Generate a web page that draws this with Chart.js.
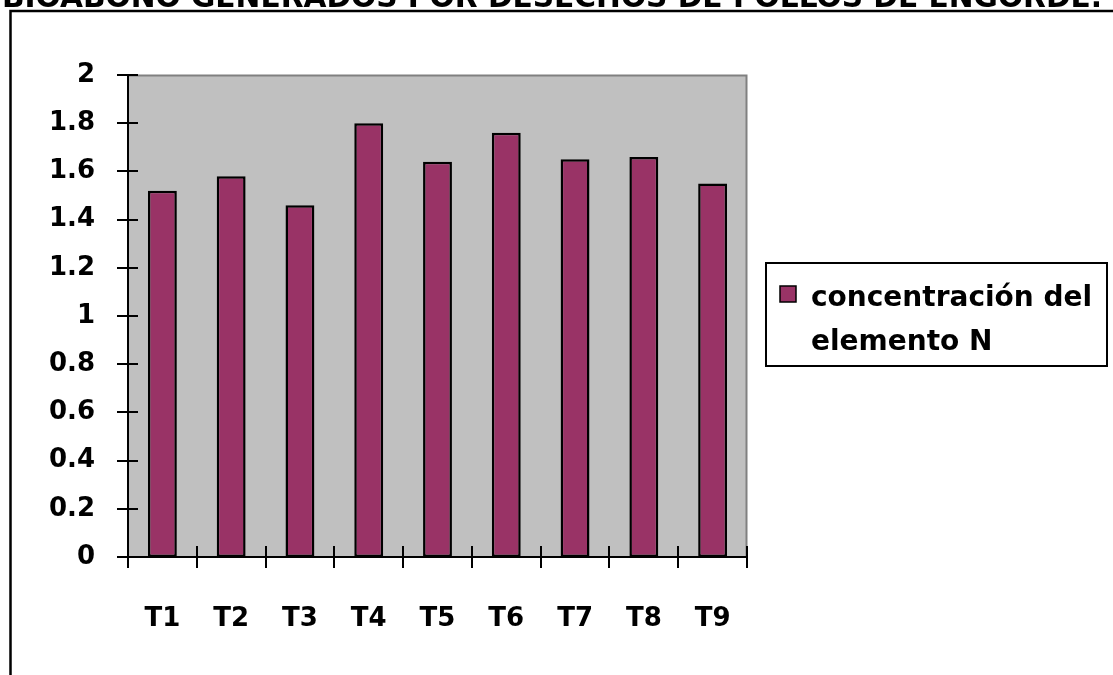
<!DOCTYPE html>
<html>
<head>
<meta charset="utf-8">
<script src="https://cdn.jsdelivr.net/npm/chart.js@4.4.1/dist/chart.umd.min.js"></script>
<style>
  html, body { margin: 0; padding: 0; background: #ffffff; }
  #wrap { position: relative; width: 1113px; height: 675px; }
</style>
</head>
<body>
<div id="wrap"><canvas id="chart"></canvas></div>
<script>
// Nitrogen concentration per treatment
const titleText = 'BIOABONO GENERADOS POR DESECHOS DE POLLOS DE ENGORDE.';
const categories = ['T1', 'T2', 'T3', 'T4', 'T5', 'T6', 'T7', 'T8', 'T9'];
const seriesLabel = 'concentración del elemento N';
const nitrogenValues = [1.52, 1.58, 1.46, 1.80, 1.64, 1.76, 1.65, 1.66, 1.55];
const yTickLabels = ['0', '0.2', '0.4', '0.6', '0.8', '1', '1.2', '1.4', '1.6', '1.8', '2'];

const FONT = '"DejaVu Sans", sans-serif';
const BAR_FILL = '#993366';

// Page frame, cropped heading, grey plot area, axes with crossing tick marks, boxed legend
const decorPlugin = {
  id: 'decor',
  beforeDraw(chart) {
    const ctx = chart.ctx;
    const a = chart.chartArea;
    ctx.save();
    ctx.fillStyle = '#ffffff';
    ctx.fillRect(0, 0, chart.width, chart.height);

    // heading (only its lower part fits on the page)
    ctx.fillStyle = '#000000';
    ctx.font = 'bold 30px ' + FONT;
    ctx.textAlign = 'center';
    ctx.textBaseline = 'alphabetic';
    ctx.fillText(titleText, 552, 7, 1100);

    // outer frame: top and left edges
    ctx.strokeStyle = '#000000';
    ctx.lineWidth = 2.5;
    ctx.beginPath();
    ctx.moveTo(10.5, chart.height + 2);
    ctx.lineTo(10.5, 11);
    ctx.lineTo(chart.width + 2, 11);
    ctx.stroke();

    // plot area
    ctx.fillStyle = '#c0c0c0';
    ctx.fillRect(a.left, a.top, a.right - a.left, a.bottom - a.top);
    ctx.strokeStyle = '#808080';
    ctx.lineWidth = 2;
    ctx.beginPath();
    ctx.moveTo(a.left, a.top + 0.5);
    ctx.lineTo(a.right - 0.5, a.top + 0.5);
    ctx.lineTo(a.right - 0.5, a.bottom);
    ctx.stroke();
    ctx.restore();
  },
  afterDatasetsDraw(chart) {
    const ctx = chart.ctx;
    const a = chart.chartArea;
    const ys = chart.scales.y;
    ctx.save();
    ctx.strokeStyle = '#000000';
    ctx.lineWidth = 2;
    ctx.beginPath();
    // value axis and its ticks
    ctx.moveTo(a.left, a.top);
    ctx.lineTo(a.left, a.bottom + 11);
    ys.ticks.forEach((t, i) => {
      const y = Math.round(ys.getPixelForTick(i));
      ctx.moveTo(a.left - 11, y);
      ctx.lineTo(a.left + 10, y);
    });
    // category axis and boundary ticks
    ctx.moveTo(a.left - 11, a.bottom);
    ctx.lineTo(a.right, a.bottom);
    const n = categories.length;
    const step = (a.right - a.left) / n;
    for (let i = 0; i <= n; i++) {
      const x = Math.round(a.left + i * step);
      ctx.moveTo(x, a.bottom - 11);
      ctx.lineTo(x, a.bottom + 11);
    }
    ctx.stroke();

    // legend
    const lx = 766, ly = 263, lw = 341, lh = 103;
    ctx.fillStyle = '#ffffff';
    ctx.fillRect(lx, ly, lw, lh);
    ctx.lineWidth = 2;
    ctx.strokeStyle = '#000000';
    ctx.strokeRect(lx, ly, lw, lh);
    const ds = chart.data.datasets[0];
    ctx.fillStyle = ds.backgroundColor;
    ctx.fillRect(780, 286, 16, 16);
    ctx.lineWidth = 1.5;
    ctx.strokeRect(780, 286, 16, 16);
    ctx.fillStyle = '#000000';
    ctx.font = 'bold 28px ' + FONT;
    ctx.textAlign = 'left';
    ctx.textBaseline = 'middle';
    const words = ds.label.split(' ');
    const line1 = words.slice(0, 2).join(' ');
    const line2 = words.slice(2).join(' ');
    ctx.fillText(line1, 811, 299, 286);
    ctx.fillText(line2, 811, 343);
    ctx.restore();
  }
};

new Chart(document.getElementById('chart'), {
  type: 'bar',
  data: {
    labels: categories,
    datasets: [{
      label: seriesLabel,
      data: nitrogenValues,
      backgroundColor: BAR_FILL,
      borderColor: '#000000',
      borderWidth: 2.5,
      borderSkipped: false,
      categoryPercentage: 1.0,
      barPercentage: 0.42
    }]
  },
  options: {
    responsive: true,
    maintainAspectRatio: false,
    animation: false,
    devicePixelRatio: 1,
    layout: { padding: { left: 0, right: 366, top: 75, bottom: 0 } },
    plugins: {
      legend: { display: false },
      title: { display: false },
      tooltip: { enabled: false }
    },
    scales: {
      x: {
        grid: { display: false, drawTicks: false },
        border: { display: false },
        ticks: {
          color: '#000000',
          font: { family: FONT, size: 26, weight: 'bold' },
          padding: 47,
          maxRotation: 0
        },
        afterFit(scale) { scale.height = 118; }
      },
      y: {
        min: 0,
        max: 2,
        grid: { display: false, drawTicks: false },
        border: { display: false },
        ticks: {
          stepSize: 0.2,
          color: '#000000',
          font: { family: FONT, size: 26, weight: 'bold' },
          padding: 33,
          callback: (v, i) => yTickLabels[i]
        },
        afterFit(scale) { scale.width = 128; }
      }
    }
  },
  plugins: [decorPlugin]
});
</script>
</body>
</html>
